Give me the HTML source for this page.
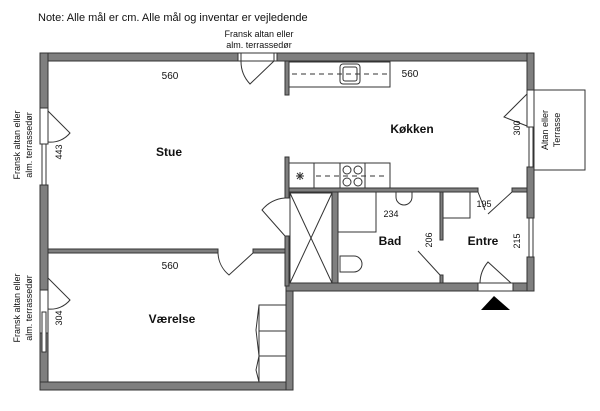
<!DOCTYPE html>
<html><head><meta charset="utf-8"><style>
body{margin:0;background:#fff}
svg{display:block}
text{font-family:"Liberation Sans",sans-serif;fill:#111}
.w{fill:#7f7f7f;stroke:#333;stroke-width:1}
.l{fill:none;stroke:#333;stroke-width:1}
.d{fill:none;stroke:#333;stroke-width:1;stroke-dasharray:5,4}
.win{fill:#fff;stroke:#333;stroke-width:1}
</style></head><body>
<svg width="600" height="411" viewBox="0 0 600 411" xmlns="http://www.w3.org/2000/svg">
<text x="38" y="21" font-size="11">Note: Alle mål er cm. Alle mål og inventar er vejledende</text>
<text x="259" y="37" font-size="9" text-anchor="middle">Fransk altan eller</text>
<text x="259" y="48" font-size="9" text-anchor="middle">alm. terrassedør</text>

<!-- outer walls -->
<rect class="w" x="40" y="53" width="198" height="8"/>
<rect class="w" x="277" y="53" width="257" height="8"/>
<rect class="w" x="40" y="53" width="8" height="55"/>
<rect class="w" x="40" y="185" width="8" height="105"/>
<rect class="w" x="40" y="333" width="8" height="57"/>
<rect class="w" x="40" y="382" width="253" height="8"/>
<rect class="w" x="286" y="283" width="7" height="107"/>
<rect class="w" x="286" y="283" width="192" height="8"/>
<rect class="w" x="513" y="283" width="21" height="8"/>
<rect class="w" x="527" y="53" width="7" height="37"/>
<rect class="w" x="527" y="167" width="7" height="51"/>
<rect class="w" x="527" y="257" width="7" height="34"/>

<!-- windows/doors outer -->
<rect class="win" x="238" y="53" width="39" height="8"/>
<line class="l" x1="241" y1="53" x2="241" y2="61"/><line class="l" x1="274" y1="53" x2="274" y2="61"/>
<path class="l" d="M241 61 A33 33 0 0 0 250 84 L274 61"/>
<rect class="win" x="40" y="108" width="8" height="36"/>
<path class="l" d="M48 111 L70 133 A25 25 0 0 1 48 142"/>
<rect class="win" x="42" y="144" width="4" height="41"/>
<rect class="win" x="40" y="290" width="8" height="43"/>
<path class="l" d="M48 278 L70 300 A25 25 0 0 1 48 309"/>
<rect class="win" x="42" y="312" width="4" height="40"/>
<rect class="win" x="527" y="90" width="7" height="37"/>
<path class="l" d="M527 94 L504 117 L527 126"/>
<rect class="win" x="529" y="127" width="4" height="40"/>
<rect class="win" x="529" y="218" width="4" height="39"/>
<rect class="win" x="478" y="283" width="35" height="8"/>
<path class="l" d="M480 283 A33 33 0 0 1 488 262 L511 283"/>
<polygon points="494,296 481,310 510,310" fill="#000"/>
<rect class="l" x="534" y="90" width="51" height="80"/>

<!-- interior walls -->
<rect class="w" x="48" y="249" width="170" height="4"/>
<rect class="w" x="253" y="249" width="33" height="4"/>
<path class="l" d="M218 253 A30 30 0 0 0 229 275 L253 253"/>
<rect class="w" x="285" y="61" width="4" height="34"/>
<rect class="w" x="285" y="157" width="4" height="41"/>
<rect class="w" x="285" y="236" width="4" height="50"/>
<path class="l" d="M285 198 A33 33 0 0 0 262 210 L285 236"/>
<rect class="w" x="289" y="188" width="189" height="4"/>
<rect class="w" x="512" y="188" width="15" height="4"/>
<path class="l" d="M478 192 L485 210 M512 192 L488 214"/>
<rect class="w" x="332" y="192" width="6" height="91"/>
<rect class="w" x="440" y="192" width="3" height="48"/>
<rect class="w" x="440" y="275" width="3" height="8"/>
<path class="l" d="M440 275 L418 251"/>

<!-- kitchen counters -->
<rect class="l" x="289" y="62" width="101" height="25"/>
<line class="d" x1="292" y1="74" x2="388" y2="74"/>
<rect class="l" x="340" y="64" width="20" height="20" rx="3"/>
<rect class="l" x="343" y="67" width="14" height="14" rx="2"/>
<rect class="l" x="289" y="163" width="101" height="25"/>
<line class="l" x1="314" y1="163" x2="314" y2="188"/>
<line class="l" x1="340" y1="163" x2="340" y2="188"/>
<line class="l" x1="365" y1="163" x2="365" y2="188"/>
<line class="d" x1="316" y1="176" x2="388" y2="176"/>
<circle class="l" cx="347" cy="170" r="4"/><circle class="l" cx="358" cy="170" r="4"/>
<circle class="l" cx="347" cy="182" r="4"/><circle class="l" cx="358" cy="182" r="4"/>
<path class="l" d="M296 176h8M300 172v8M297 173l6 6M303 173l-6 6"/>

<!-- shower -->
<rect class="l" x="290" y="193" width="42" height="90"/>
<path class="l" d="M290 193 L332 283 M332 193 L290 283"/>
<!-- bath -->
<rect class="l" x="338" y="192" width="38" height="40"/>
<path class="l" d="M396 192 v5 a8 8 0 0 0 16 0 v-5"/>
<path class="l" d="M340 256 h14 a8 8 0 0 1 0 16 h-14 z"/>
<rect class="l" x="443" y="192" width="27" height="26"/>
<!-- wardrobe -->
<rect class="l" x="259" y="305" width="27" height="77"/>
<line class="l" x1="259" y1="331" x2="286" y2="331"/>
<line class="l" x1="259" y1="356" x2="286" y2="356"/>
<path class="l" d="M259 305 L256 330 L259 356 L256 370 L259 382"/>

<!-- labels -->
<text x="170" y="79" font-size="10" text-anchor="middle">560</text>
<text x="410" y="77" font-size="10" text-anchor="middle">560</text>
<text x="170" y="269" font-size="10" text-anchor="middle">560</text>
<text x="169" y="156" font-size="12" font-weight="bold" text-anchor="middle">Stue</text>
<text x="412" y="133" font-size="12" font-weight="bold" text-anchor="middle">Køkken</text>
<text x="172" y="323" font-size="12" font-weight="bold" text-anchor="middle">Værelse</text>
<text x="390" y="245" font-size="12" font-weight="bold" text-anchor="middle">Bad</text>
<text x="483" y="245" font-size="12" font-weight="bold" text-anchor="middle">Entre</text>
<text x="391" y="217" font-size="9" text-anchor="middle">234</text>
<text x="484" y="207" font-size="9" text-anchor="middle">195</text>
<text font-size="9" text-anchor="middle" transform="translate(62,152) rotate(-90)">443</text>
<text font-size="9" text-anchor="middle" transform="translate(62,318) rotate(-90)">304</text>
<text font-size="9" text-anchor="middle" transform="translate(520,128) rotate(-90)">300</text>
<text font-size="9" text-anchor="middle" transform="translate(520,241) rotate(-90)">215</text>
<text font-size="9" text-anchor="middle" transform="translate(432,240) rotate(-90)">206</text>
<text font-size="9" text-anchor="middle" transform="translate(20,145) rotate(-90)">Fransk altan eller</text>
<text font-size="9" text-anchor="middle" transform="translate(32,145) rotate(-90)">alm. terrassedør</text>
<text font-size="9" text-anchor="middle" transform="translate(20,308) rotate(-90)">Fransk altan eller</text>
<text font-size="9" text-anchor="middle" transform="translate(32,308) rotate(-90)">alm. terrassedør</text>
<text font-size="9" text-anchor="middle" transform="translate(548,130) rotate(-90)">Altan eller</text>
<text font-size="9" text-anchor="middle" transform="translate(560,130) rotate(-90)">Terrasse</text>
</svg>
</body></html>
